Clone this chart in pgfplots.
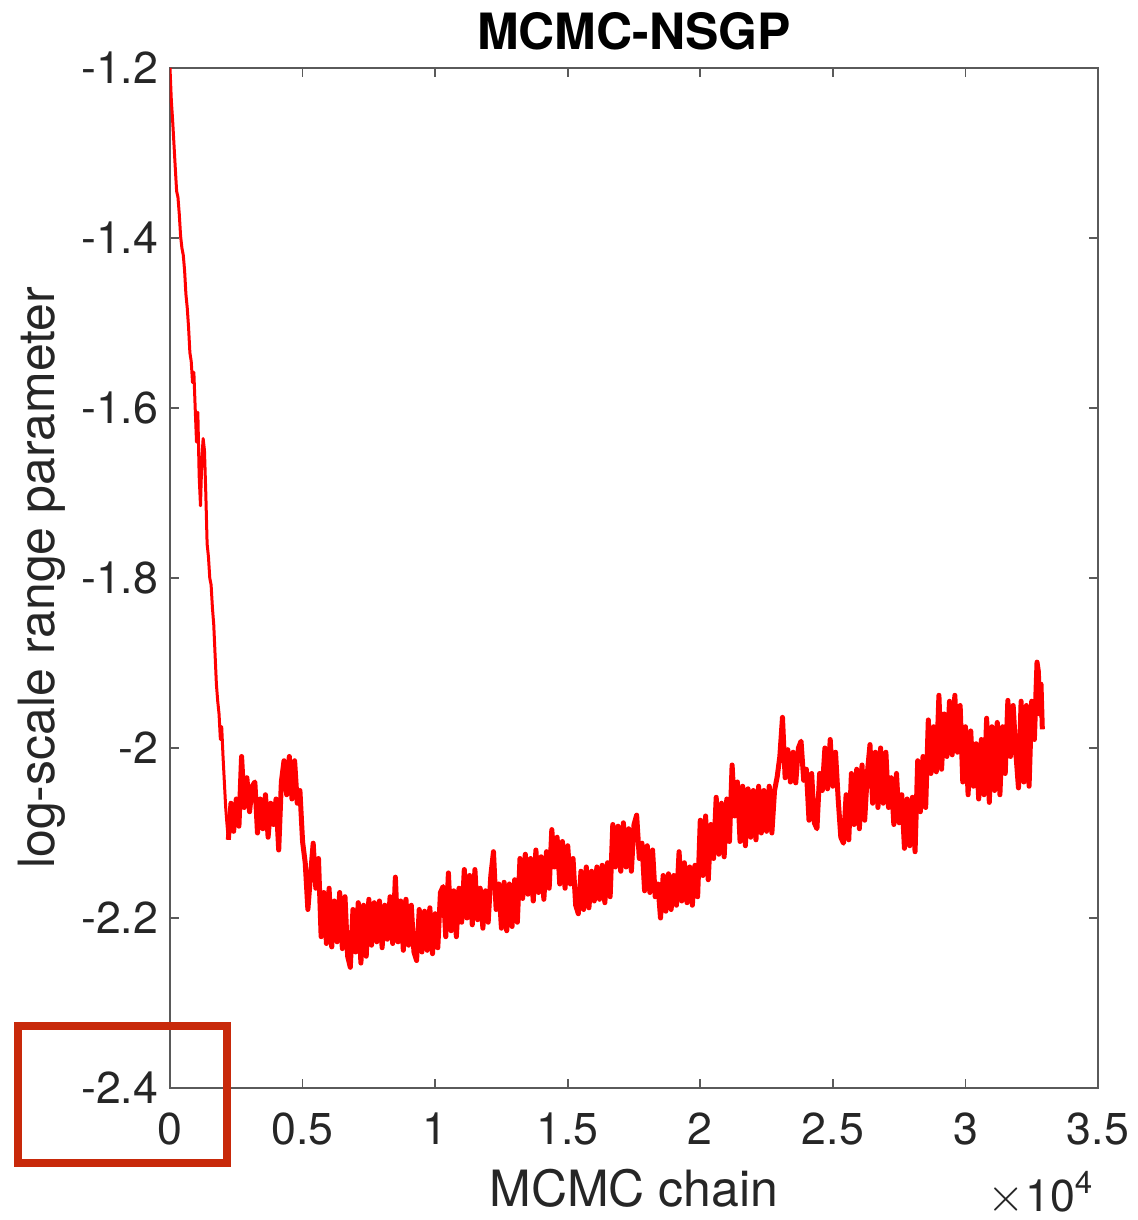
\documentclass[border=0pt]{standalone}
\usepackage{fontspec}
\setmainfont{TeX Gyre Heros}
\usepackage{pgfplots}
\pgfplotsset{compat=1.18}
\usetikzlibrary{calc}
\definecolor{axgray}{RGB}{90,90,90}
\definecolor{txtgray}{RGB}{38,38,38}
\definecolor{boxred}{RGB}{200,41,10}
\begin{document}
\begin{tikzpicture}
\begin{axis}[name=ax, scale only axis, width=278.4pt, height=306pt,
  xmin=0, xmax=35000, ymin=-2.4, ymax=-1.2,
  xtick={0,5000,10000,15000,20000,25000,30000,35000},
  xticklabels={0,0.5,1,1.5,2,2.5,3,3.5},
  ytick={-2.4,-2.2,-2,-1.8,-1.6,-1.4,-1.2},
  yticklabels={-2.4,-2.2,-2,-1.8,-1.6,-1.4,-1.2},
  scaled x ticks=false, scaled y ticks=false,
  tick align=inside, major tick length=2.7pt,
  axis line style={axgray, line width=0.5pt},
  tick style={axgray, line width=0.5pt},
  ticklabel style={font=\fontsize{13.4}{16}\selectfont, text=txtgray},
  xticklabel style={yshift=-4pt},
  xlabel={MCMC chain}, ylabel={log-scale range parameter},
  xlabel style={at={(axis description cs:0.5,-0.098)}, anchor=center, font=\fontsize{15}{18}\selectfont, text=txtgray},
  ylabel style={at={(axis description cs:-0.138,0.5)}, anchor=center, rotate=0, font=\fontsize{15}{18}\selectfont, text=txtgray},
]
\addplot[red, line width=0.9pt, line join=round] coordinates {
(0,-1.200) (50,-1.238) (100,-1.262) (150,-1.290) (200,-1.318) (250,-1.345) (300,-1.352) (350,-1.372)
(400,-1.398) (450,-1.412) (500,-1.420) (550,-1.438) (600,-1.466) (650,-1.482) (700,-1.505) (750,-1.535)
(800,-1.545) (850,-1.570) (900,-1.558) (950,-1.600) (1000,-1.640) (1050,-1.605) (1100,-1.680) (1150,-1.715)
(1200,-1.660) (1250,-1.636) (1300,-1.650) (1350,-1.700) (1400,-1.760) (1450,-1.775) (1500,-1.800) (1550,-1.808)
(1600,-1.835) (1650,-1.855) (1700,-1.890) (1750,-1.925) (1800,-1.945) (1850,-1.960) (1900,-1.990) (1950,-1.975)
(2000,-2.010) (2050,-2.040) (2100,-2.070) (2150,-2.090) (2200,-2.108)
};
\addplot[red, line width=1.5pt, line join=round] coordinates {
(2200,-2.108)
(2300,-2.065) (2400,-2.098) (2500,-2.060) (2600,-2.092) (2700,-2.010) (2800,-2.070) (2900,-2.035) (3000,-2.075)
(3100,-2.045) (3200,-2.040) (3300,-2.100) (3400,-2.060) (3500,-2.095) (3600,-2.055) (3700,-2.105) (3800,-2.065)
(3900,-2.090) (4000,-2.060) (4100,-2.120) (4200,-2.040) (4300,-2.015) (4400,-2.055) (4500,-2.010) (4600,-2.060)
(4700,-2.015) (4800,-2.065) (4900,-2.050) (5000,-2.110) (5100,-2.135) (5200,-2.190) (5300,-2.150) (5400,-2.112)
(5500,-2.165) (5600,-2.130) (5700,-2.222) (5800,-2.170) (5900,-2.230) (6000,-2.165) (6100,-2.234) (6200,-2.180)
(6300,-2.228) (6400,-2.170) (6500,-2.236) (6600,-2.175) (6700,-2.245) (6800,-2.258) (6900,-2.190) (7000,-2.240)
(7100,-2.182) (7200,-2.253) (7300,-2.185) (7400,-2.245) (7500,-2.178) (7600,-2.232) (7700,-2.182) (7800,-2.228)
(7900,-2.180) (8000,-2.235) (8100,-2.185) (8200,-2.225) (8300,-2.175) (8400,-2.230) (8500,-2.152) (8600,-2.228)
(8700,-2.180) (8800,-2.238) (8900,-2.178) (9000,-2.232) (9100,-2.185) (9200,-2.240) (9300,-2.250) (9400,-2.190)
(9500,-2.240) (9600,-2.192) (9700,-2.238) (9800,-2.188) (9900,-2.242) (10000,-2.195) (10100,-2.235) (10200,-2.170)
(10300,-2.163) (10400,-2.222) (10500,-2.147) (10600,-2.215) (10700,-2.168) (10800,-2.222) (10900,-2.165) (11000,-2.205)
(11100,-2.143) (11200,-2.200) (11300,-2.150) (11400,-2.208) (11500,-2.143) (11600,-2.202) (11700,-2.165) (11800,-2.212)
(11900,-2.168) (12000,-2.205) (12100,-2.150) (12200,-2.122) (12300,-2.190) (12400,-2.160) (12500,-2.212) (12600,-2.158)
(12700,-2.215) (12800,-2.160) (12900,-2.210) (13000,-2.155) (13100,-2.205) (13200,-2.130) (13300,-2.177) (13400,-2.125)
(13500,-2.172) (13600,-2.130) (13700,-2.180) (13800,-2.120) (13900,-2.170) (14000,-2.128) (14100,-2.178) (14200,-2.122)
(14300,-2.165) (14400,-2.096) (14500,-2.140) (14600,-2.105) (14700,-2.160) (14800,-2.110) (14900,-2.165) (15000,-2.115)
(15100,-2.160) (15200,-2.130) (15300,-2.185) (15400,-2.195) (15500,-2.145) (15600,-2.190) (15700,-2.140) (15800,-2.188)
(15900,-2.145) (16000,-2.180) (16100,-2.140) (16200,-2.178) (16300,-2.138) (16400,-2.182) (16500,-2.135) (16600,-2.175)
(16700,-2.090) (16800,-2.140) (16900,-2.092) (17000,-2.145) (17100,-2.088) (17200,-2.140) (17300,-2.095) (17400,-2.145)
(17500,-2.090) (17600,-2.079) (17700,-2.130) (17800,-2.112) (17900,-2.168) (18000,-2.115) (18100,-2.170) (18200,-2.120)
(18300,-2.175) (18400,-2.160) (18500,-2.200) (18600,-2.150) (18700,-2.192) (18800,-2.148) (18900,-2.190) (19000,-2.150)
(19100,-2.185) (19200,-2.122) (19300,-2.180) (19400,-2.135) (19500,-2.182) (19600,-2.140) (19700,-2.185) (19800,-2.138)
(19900,-2.175) (20000,-2.085) (20100,-2.150) (20200,-2.080) (20300,-2.155) (20400,-2.090) (20500,-2.130) (20600,-2.058)
(20700,-2.125) (20800,-2.065) (20900,-2.128) (21000,-2.060) (21100,-2.110) (21200,-2.020) (21300,-2.080) (21400,-2.040)
(21500,-2.110) (21600,-2.045) (21700,-2.115) (21800,-2.048) (21900,-2.105) (22000,-2.050) (22100,-2.108) (22200,-2.045)
(22300,-2.100) (22400,-2.050) (22500,-2.098) (22600,-2.045) (22700,-2.100) (22800,-2.050) (22900,-2.034) (23000,-2.010)
(23100,-1.964) (23200,-2.035) (23300,-2.002) (23400,-2.040) (23500,-2.005) (23600,-2.041) (23700,-2.000) (23800,-1.992)
(23900,-2.038) (24000,-2.025) (24100,-2.085) (24200,-2.030) (24300,-2.088) (24400,-2.095) (24500,-2.030) (24600,-2.050)
(24700,-2.000) (24800,-2.048) (24900,-1.990) (25000,-2.045) (25100,-2.005) (25200,-2.060) (25300,-2.105) (25400,-2.112)
(25500,-2.055) (25600,-2.108) (25700,-2.030) (25800,-2.090) (25900,-2.025) (26000,-2.095) (26100,-2.020) (26200,-2.085)
(26300,-2.030) (26400,-1.996) (26500,-2.065) (26600,-2.005) (26700,-2.070) (26800,-2.000) (26900,-2.065) (27000,-2.005)
(27100,-2.070) (27200,-2.035) (27300,-2.090) (27400,-2.030) (27500,-2.088) (27600,-2.055) (27700,-2.118) (27800,-2.060)
(27900,-2.115) (28000,-2.058) (28100,-2.122) (28200,-2.015) (28300,-2.075) (28400,-2.010) (28500,-2.070) (28600,-1.967)
(28700,-2.030) (28800,-1.975) (28900,-2.028) (29000,-1.938) (29100,-2.025) (29200,-1.960) (29300,-2.010) (29400,-1.945)
(29500,-2.008) (29600,-1.938) (29700,-2.005) (29800,-1.950) (29900,-2.040) (30000,-1.975) (30100,-2.055) (30200,-1.980)
(30300,-2.045) (30400,-1.995) (30500,-2.060) (30600,-1.990) (30700,-2.055) (30800,-1.965) (30900,-2.064) (31000,-1.975)
(31100,-2.050) (31200,-1.970) (31300,-2.055) (31400,-1.975) (31500,-2.030) (31600,-1.944) (31700,-2.010) (31800,-1.950)
(31900,-2.005) (32000,-2.047) (32100,-1.945) (32200,-2.040) (32300,-1.950) (32400,-2.045) (32500,-1.945) (32600,-1.990)
(32700,-1.899) (32750,-1.910) (32800,-1.960) (32850,-1.925) (32900,-1.978)
};
\end{axis}
\node[anchor=base, inner sep=0pt, font=\bfseries\fontsize{15}{18}\selectfont] at ($(ax.north)+(0,5.4pt)$) {MCMC-NSGP};
\draw[boxred, line width=2.4pt] ($(ax.south west)+(-45.6pt,-22.5pt)$) rectangle ($(ax.south west)+(17.1pt,18.6pt)$);
\node[anchor=base east, inner sep=0pt, text=txtgray, font=\fontsize{13.4}{16}\selectfont] at ($(ax.south east)+(-1pt,-37pt)$) {$\times$10\textsuperscript{4}};
\pgfresetboundingbox
\useasboundingbox ($(ax.south west)+(-51pt,-39.6pt)$) rectangle ($(ax.south west)+(290.1pt,326.4pt)$);
\end{tikzpicture}
\end{document}
